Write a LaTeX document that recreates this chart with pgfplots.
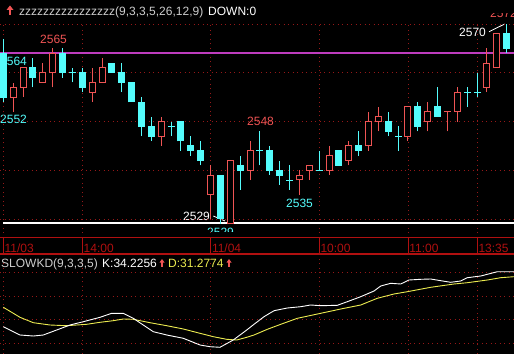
\documentclass[border=0pt]{standalone}
\usepackage{fontspec}
\setmainfont{Liberation Sans}
\usepackage{pgfplots}
\pgfplotsset{compat=1.18}
\usepackage{pgfplotstable}
\definecolor{cy}{RGB}{84,252,252}
\definecolor{rd}{RGB}{240,84,84}
\definecolor{grd}{RGB}{150,24,24}
\definecolor{axr}{RGB}{176,16,16}
\definecolor{mag}{RGB}{190,60,190}
\definecolor{yl}{RGB}{235,235,80}
\definecolor{lg}{RGB}{205,205,205}

% falling (cyan) candles
\pgfplotstableread{
i O H L C
0 2564 2567 2554 2555
3 2561 2563 2557 2559
6 2564 2565 2559 2560
7 2560 2561 2558 2560
8 2560 2561 2556 2557
11 2562 2562 2560 2560
12 2560 2562 2556 2558
13 2558 2558 2554 2554
14 2554 2555 2547 2549
15 2549 2551 2546 2547
17 2549 2550 2547 2549
18 2550 2550 2544 2546
19 2545 2547 2543 2544
20 2544 2546 2541 2542
22 2539 2539 2529 2530
24 2541 2543 2536 2540
26 2544 2548 2541 2544
27 2544 2545 2539 2540
28 2540 2542 2537 2539
29 2538 2541 2536 2538
32 2540 2544 2540 2540
34 2544 2544 2541 2541
36 2545 2548 2543 2544
39 2550 2552 2547 2548
40 2547 2549 2544 2547
42 2553 2554 2548 2549
44 2553 2557 2551 2551
47 2556 2557 2553 2556
48 2556 2560 2555 2556
51 2568 2570 2564 2565
}\candown
% rising (red, hollow) candles
\pgfplotstableread{
i O H L C
1 2555 2558 2552 2557
2 2557 2561 2555 2561
4 2558 2562 2558 2560
5 2560 2565 2557 2564
9 2556 2561 2554 2558
10 2558 2563 2558 2561
16 2547 2551 2545 2550
21 2535 2541 2530 2539
23 2529 2542 2529 2542
25 2540 2546 2538 2544
30 2538 2540 2535 2539
31 2540 2541 2538 2541
33 2540 2545 2539 2543
35 2542 2546 2541 2545
37 2545 2552 2544 2550
38 2550 2553 2548 2551
41 2547 2553 2546 2553
43 2550 2554 2548 2552
46 2552 2557 2550 2556
49 2557 2565 2556 2562
50 2561 2568 2561 2568
}\canup
% rising candle with open = close
\pgfplotstableread{
i O H L C
45 2552 2552 2548 2552
}\canflat

\pgfplotstableread{
x v
0 27.3
1.69 19
3.04 18
4.05 19
5.41 24
6.76 29
8.11 32.3
9.80 36.7
10.98 40.7
12.16 40.7
13.17 35.7
14.18 29
15.20 22.3
16.56 19
18.24 15.7
19.93 9
20.94 7.3
21.95 6.7
23.30 14
24.66 24
25.40 29.7
26.41 37.3
27.43 43.3
28.77 46
30.13 47.3
31.14 49
32.16 48.3
33.84 48.7
34.85 52.3
36.21 57.3
37.56 63
38.24 68
39.25 70.7
40.26 70
41.10 74
42.29 74.7
43.30 75
44.32 73.3
45.33 71.7
46.34 73
47.01 76.3
48.37 78
49.04 79.7
50.05 82.3
51.74 82.3
}\kline
\pgfplotstableread{
x v
0 46.7
1.69 36.7
3.04 31.3
4.73 29
6.42 28.3
8.45 29.7
9.80 31.7
11.14 33.3
12.16 35
13.17 34.7
14.86 31.3
16.56 28.3
18.24 25
19.93 20.7
21.28 17.3
22.63 14.7
23.65 14
24.66 16.7
25.40 19
26.75 24.7
28.11 29.7
29.79 35.7
32.16 40.7
34.19 45
36.21 49
37.89 55.7
39.58 60
40.93 62.3
43.30 66.7
45.66 70
47.01 71.3
49.04 74
50.39 76.3
51.74 77.3
}\dline

\pgfplotsset{
  panel/.style={scale only axis, width=514pt, xmin=-0.334, xmax=51.74,
    axis line style={draw=none}, tick style={draw=none}, major tick length=0pt,
    xticklabels={}, yticklabels={},
    xtick={0,8,21,32,41,48},
    grid=major, grid style={grd, line width=0.9pt, dash pattern=on 0.9pt off 3.6pt}},
}

\begin{document}
\begin{tikzpicture}[x=1pt,y=1pt,font=\fontsize{12}{14}\selectfont]
\fill[black] (0,0) rectangle (514,354);
\useasboundingbox (0,0) rectangle (514,354);

% price labels (under the candles)
\node[anchor=base west, inner sep=0, text=rd] at (40,310) {2565};
\node[anchor=base west, inner sep=0, text=cy] at (0,288) {2564};
\node[anchor=base west, inner sep=0, text=cy] at (0,230) {2552};
\node[anchor=base west, inner sep=0, text=rd] at (247,228) {2548};
\node[anchor=base west, inner sep=0, text=cy] at (286,147) {2535};
\node[anchor=base west, inner sep=0, text=white] at (183,134) {2529};
\node[anchor=base west, inner sep=0, text=cy] at (207,118) {2529};
\node[anchor=base west, inner sep=0, text=white] at (459,317) {2570};
\node[anchor=base west, inner sep=0, text=rd] at (490,336) {2572};
\draw[white, line width=0.8pt] (213.3,138) -- (225,133);
\draw[white, line width=0.8pt] (489,322.3) -- (504.7,330);
% clip the cut labels
\fill[black] (470,341) rectangle (514,354);
\fill[black] (200,116.5) rectangle (245,122.3);

% main price panel
\begin{axis}[panel, at={(0pt,330pt)}, anchor=north west, height=213.5pt,
  ymin=2526.205, ymax=2570, ytick={2530,2540,2550,2560,2570}]
\addplot[mag, line width=1.2pt, forget plot] coordinates {(-0.334,2564.05) (51.74,2564.05)};
\addplot[white, line width=1.3pt, forget plot] coordinates {(0,2529.18) (51.74,2529.18)};
% wicks
\addplot[cy, line width=1pt, forget plot, quiver={u=0, v=\thisrow{H}-\thisrow{L}}] table[x=i, y=L] {\candown};
\addplot[rd, line width=1pt, forget plot, quiver={u=0, v=\thisrow{H}-\thisrow{L}}] table[x=i, y=L] {\canup};
\addplot[rd, line width=1pt, forget plot, quiver={u=0, v=\thisrow{H}-\thisrow{L}}] table[x=i, y=L] {\canflat};
% cyan filled bodies
\addplot[cy, line width=7pt, forget plot, quiver={u=0, v=\thisrow{O}-\thisrow{C}+0.2}] table[x=i, y expr=\thisrow{C}-0.1] {\candown};
% red hollow bodies
\addplot[rd, line width=7pt, forget plot, quiver={u=0, v=\thisrow{C}-\thisrow{O}+0.2}] table[x=i, y expr=\thisrow{O}-0.1] {\canup};
\addplot[black, line width=5pt, forget plot, quiver={u=0, v=\thisrow{C}-\thisrow{O}-0.22}] table[x=i, y expr=\thisrow{O}+0.11] {\canup};
\addplot[rd, line width=7pt, forget plot, quiver={u=0, v=\thisrow{C}-\thisrow{O}+0.2}] table[x=i, y expr=\thisrow{O}-0.1] {\canflat};
\end{axis}

% KD panel
\begin{axis}[panel, at={(0pt,100pt)}, anchor=north west, height=100pt,
  ymin=0, ymax=100, ytick={10.7,34.7,57.3,81.7}]
\addplot[yl, line width=0.9pt] table[x=x, y=v] {\dline};
\addplot[white, line width=0.9pt] table[x=x, y=v] {\kline};
\end{axis}

% time strip
\draw[axr, line width=1.3pt] (0,116.3) -- (514,116.3);
\draw[axr, line width=1.3pt] (0,100) -- (514,100);
\foreach \xx/\lab in {3.3/11\slash 03, 82.3/14:00, 210.6/11\slash 04, 319.1/10:00, 408/11:00, 477.1/13:35}{
  \draw[axr, line width=1pt] (\xx,100) -- (\xx,116.3);
  \node[anchor=base west, inner sep=0, text=axr] at (\xx+1.2,102) {\lab};
}

% header
\fill[rd] (6.5,344) -- (13.5,344) -- (10,348.5) -- cycle;
\fill[rd] (9,339) rectangle (11,344.2);
\node[anchor=base west, inner sep=0, text=lg] at (19,338.5) {zzzzzzzzzzzzzzzz(9,3,3,5,26,12,9)};
\node[anchor=base west, inner sep=0, text=white] at (208,338.5) {DOWN:0};

% KD title
\node[anchor=base west, inner sep=0, text=lg] at (1,87) {SLOWKD(9,3,3,5)};
\node[anchor=base west, inner sep=0, text=white] at (102,87) {K:34.2256};
\node[anchor=base west, inner sep=0, text=yl] at (168,87) {D:31.2774};
\fill[rd] (159.5,91.5) -- (164.5,91.5) -- (162,95) -- cycle;
\fill[rd] (161.2,87) rectangle (162.8,91.6);
\fill[rd] (226.5,91.5) -- (231.5,91.5) -- (229,95) -- cycle;
\fill[rd] (228.2,87) rectangle (229.8,91.6);
\end{tikzpicture}
\end{document}
